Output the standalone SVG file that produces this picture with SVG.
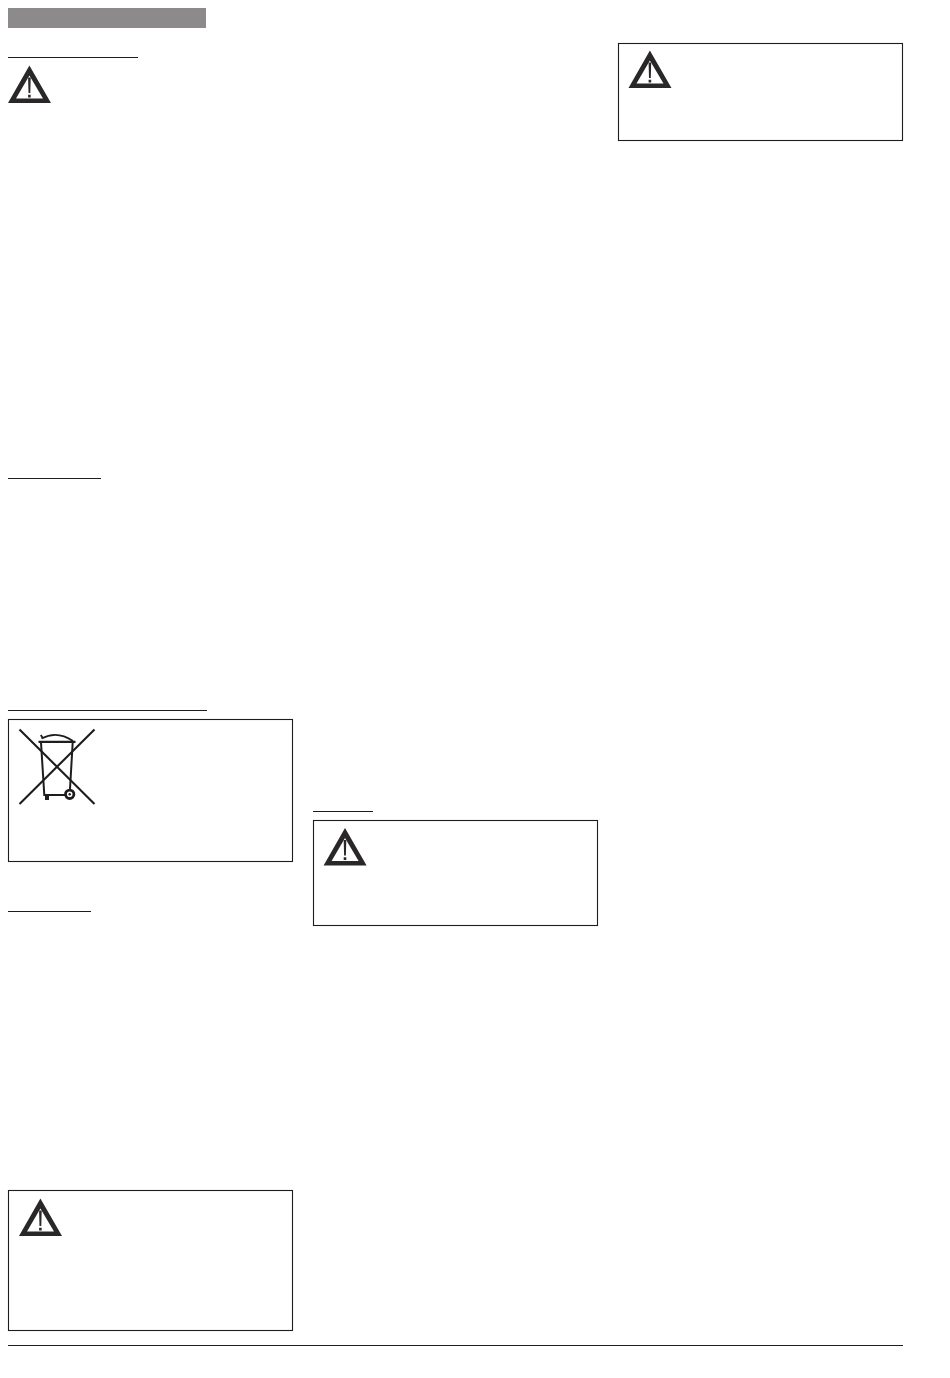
<svg xmlns="http://www.w3.org/2000/svg" width="950" height="1378" viewBox="0 0 950 1378">
<style>
.rule{stroke:#1f1c1d;stroke-width:1;fill:none}
.box{stroke:#1f1c1d;stroke-width:1.1;fill:#fff}
.bin{stroke:#1f1c1d;fill:none}
</style>
<defs>
<g id="warn">
<path fill="#2a2728" fill-rule="evenodd" d="M21.4 -37.5L43 0H0ZM21.4 -27.5L8 -4.4H35Z"/>
<path fill="#2a2728" d="M20.1 -25.5H22.7L22.3 -10H20.5ZM20.1 -8.2H22.7V-5.6H20.1Z"/>
</g>
</defs>
<rect width="950" height="1378" fill="#fff"/>
<rect id="header-bar" x="8" y="8" width="198" height="20" fill="#8c8a8a"/>
<g id="connectors">
<path class="rule" d="M8 57.5H138"/>
<path class="rule" d="M8 478.5H101"/>
<path class="rule" d="M8 710.5H207"/>
<path class="rule" d="M8 911.5H91"/>
<path class="rule" d="M313 811.5H373"/>
<path class="rule" d="M8 1345.5H903"/>
</g>
<g id="warning-1"><use href="#warn" x="8" y="103"/></g>
<g id="disposal-box">
<rect class="box" x="8.5" y="719.5" width="284" height="142"/>
<g id="bin-icon">
<path class="bin" stroke-width="2.1" d="M19.5 729.5L94.5 804M94.5 729.5L19.5 804"/>
<path class="bin" stroke-width="2.2" d="M38.5 741.8H75.5"/>
<path class="bin" stroke-width="1.8" d="M41.5 738.5Q57 730 73 741M40.8 735L43 738.5"/>
<path class="bin" stroke-width="2" d="M41 742.5L44.3 795H65M72.7 742.5L70 789"/>
<rect x="45" y="795" width="4" height="5" fill="#1f1c1d"/>
<circle class="bin" cx="69.7" cy="794.3" r="4.2" stroke-width="2.8"/>
<circle cx="69.7" cy="794.3" r="1.2" fill="#1f1c1d"/>
</g>
</g>
<g id="warning-2">
<rect class="box" x="8.5" y="1190.5" width="284" height="140"/>
<use href="#warn" x="19" y="1236"/>
</g>
<g id="warning-3">
<rect class="box" x="313.5" y="820.5" width="284" height="105"/>
<use href="#warn" x="323.6" y="865.5"/>
</g>
<g id="warning-4">
<rect class="box" x="618.5" y="43.5" width="284" height="97"/>
<use href="#warn" x="628.5" y="88"/>
</g>
</svg>
